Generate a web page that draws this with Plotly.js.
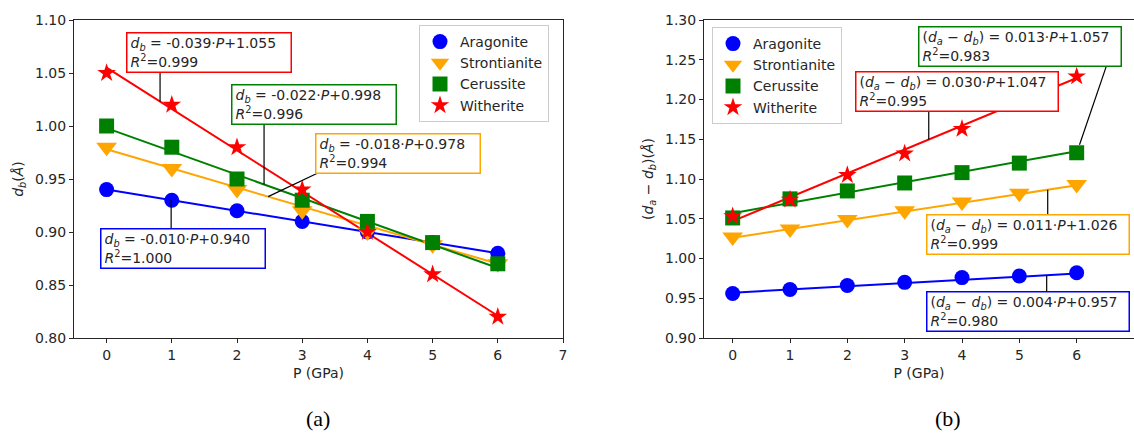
<!DOCTYPE html>
<html>
<head>
<meta charset="utf-8">
<script src="https://cdn.plot.ly/plotly-3.0.1.min.js"></script>
<style>
  html, body { margin: 0; padding: 0; background: #ffffff; }
  #chart { width: 1134px; height: 440px; }
</style>
</head>
<body>
<div id="chart"></div>
<script>
// ---------------- data ----------------
const pressure = [0, 1, 2, 3, 4, 5, 6];
const minerals = ['Aragonite', 'Strontianite', 'Cerussite', 'Witherite'];

// (a) d_b (Å)
const dbAragonite    = [0.94, 0.93, 0.92, 0.91, 0.90, 0.89, 0.88];
const dbStrontianite = [0.98, 0.96, 0.94, 0.92, 0.90, 0.888, 0.87];
const dbCerussite    = [1.00, 0.98, 0.95, 0.93, 0.91, 0.89, 0.87];
const dbWitherite    = [1.05, 1.02, 0.98, 0.94, 0.90, 0.86, 0.82];
const dbSlope     = [-0.010, -0.018, -0.022, -0.039];
const dbIntercept = [0.940, 0.978, 0.998, 1.055];
const dbR2        = ['1.000', '0.994', '0.996', '0.999'];

// (b) (d_a - d_b) (Å)
const dadbAragonite    = [0.956, 0.961, 0.966, 0.970, 0.976, 0.978, 0.982];
const dadbStrontianite = [1.027, 1.037, 1.049, 1.060, 1.071, 1.082, 1.093];
const dadbCerussite    = [1.051, 1.075, 1.085, 1.095, 1.108, 1.120, 1.133];
const dadbWitherite    = [1.053, 1.074, 1.105, 1.132, 1.163, 1.195, 1.229];
const dadbSlope     = [0.004, 0.011, 0.013, 0.030];
const dadbIntercept = [0.957, 1.026, 1.057, 1.047];
const dadbR2        = ['0.980', '0.999', '0.983', '0.995'];

const xTickVals = [0, 1, 2, 3, 4, 5, 6, 7];
const panelLabels = ['(a)', '(b)'];

// ---------------- styling ----------------
const colors  = ['#0000ff', '#ffa500', '#008000', '#ff0000'];
const symbols = ['circle', 'triangle-down', 'square', 'star'];
const msizes  = [15, 18, 15, 14];
const FONT = 'DejaVu Sans, Verdana, sans-serif';
const INK = '#262626';

const dbSeries   = [dbAragonite, dbStrontianite, dbCerussite, dbWitherite];
const dadbSeries = [dadbAragonite, dadbStrontianite, dadbCerussite, dadbWitherite];

const traces = [];
function addPanel(series, slope, intercept, xa, ya, legendName) {
  const x0 = pressure[0], x1 = pressure[pressure.length - 1];
  for (let i = 0; i < minerals.length; i++) {
    traces.push({
      x: [x0, x1], y: [slope[i] * x0 + intercept[i], slope[i] * x1 + intercept[i]],
      xaxis: xa, yaxis: ya, mode: 'lines', showlegend: false, hoverinfo: 'skip',
      line: { color: colors[i], width: 2 }
    });
  }
  for (let i = 0; i < minerals.length; i++) {
    traces.push({
      x: pressure, y: series[i], xaxis: xa, yaxis: ya, mode: 'markers',
      name: minerals[i], legend: legendName,
      marker: { color: colors[i], symbol: symbols[i], size: msizes[i], line: { width: 0 } }
    });
  }
}
addPanel(dbSeries, dbSlope, dbIntercept, 'x', 'y', 'legend');
addPanel(dadbSeries, dadbSlope, dadbIntercept, 'x2', 'y2', 'legend2');

function fmt(v) { return v.toFixed(3); }
function dbText(i) {
  return '<i>d</i><sub><i>b</i></sub> = ' + fmt(dbSlope[i]) + '·<i>P</i>+' + fmt(dbIntercept[i]) +
         '<br><i>R</i><sup>2</sup>=' + dbR2[i];
}
function dadbText(i) {
  return '(<i>d</i><sub><i>a</i></sub> − <i>d</i><sub><i>b</i></sub>) = ' + fmt(dadbSlope[i]) + '·<i>P</i>+' +
         fmt(dadbIntercept[i]) + '<br><i>R</i><sup>2</sup>=' + dadbR2[i];
}

// placement: [leaderStartX, leaderStartY, leaderEndX, leaderEndY or null (on fit), boxCenterX, boxCenterY]
const dbAnnPos = [
  [0.99, 0.9028, 0.99, null, 1.175, 0.8843],    // Aragonite
  [3.232, 0.9554, 2.478, null, 4.475, 0.9739],  // Strontianite
  [2.415, 1.0019, 2.415, null, 3.18, 1.0203],   // Cerussite
  [0.82, 1.0509, 0.82, null, 1.57, 1.0693]      // Witherite
];
const dadbAnnPos = [
  [5.477, 0.9579, 5.477, null, 5.154, 0.9336],
  [5.495, 1.0547, 5.495, null, 5.15, 1.030],
  [6.515, 1.2413, 6.05, 1.143, 5.02, 1.2664],
  [3.42, 1.1855, 3.42, null, 3.92, 1.2098]
];

const annotations = [];
const shapes = [];
function addAnn(posArr, slope, intercept, textFn, xr, yr, boxW) {
  for (let i = 0; i < minerals.length; i++) {
    const p = posArr[i];
    const ey = p[3] === null ? slope[i] * p[2] + intercept[i] : p[3];
    shapes.push({ type: 'line', xref: xr, yref: yr, x0: p[0], y0: p[1], x1: p[2], y1: ey,
      line: { color: '#000000', width: 1.2 }, layer: 'above' });
    annotations.push({
      xref: xr, yref: yr, x: p[4], y: p[5], xanchor: 'center', yanchor: 'middle',
      text: textFn(i), showarrow: false, width: boxW, height: 32,
      align: 'left', valign: 'middle', bgcolor: '#ffffff', bordercolor: colors[i], borderwidth: 1.5, borderpad: 3,
      font: { family: FONT, size: 14, color: INK }
    });
  }
}
addAnn(dbAnnPos, dbSlope, dbIntercept, dbText, 'x', 'y', 157);
addAnn(dadbAnnPos, dadbSlope, dadbIntercept, dadbText, 'x2', 'y2', 195);

// panel labels
annotations.push({ xref: 'paper', yref: 'paper', x: 318 / 1134, y: (338 - 418) / 318,
  text: panelLabels[0], showarrow: false, xanchor: 'center', yanchor: 'middle',
  font: { family: 'Liberation Serif, Times New Roman, serif', size: 22, color: '#000' } });
annotations.push({ xref: 'paper', yref: 'paper', x: 948 / 1134, y: (338 - 418) / 318,
  text: panelLabels[1], showarrow: false, xanchor: 'center', yanchor: 'middle',
  font: { family: 'Liberation Serif, Times New Roman, serif', size: 22, color: '#000' } });

function xAxis(domain) {
  return {
    domain: domain, range: [-0.5, 7], tickvals: xTickVals, ticks: 'outside', ticklen: 4,
    tickcolor: INK, showline: true, linecolor: INK, linewidth: 1, mirror: true,
    showgrid: false, zeroline: false,
    tickfont: { family: FONT, size: 14, color: INK },
    title: { text: 'P (GPa)', font: { family: FONT, size: 14, color: INK }, standoff: 6 }
  };
}
function yAxis(range, anchor, title) {
  return {
    anchor: anchor, range: range, dtick: 0.05, tick0: 0.8, tickformat: '.2f',
    ticks: 'outside', ticklen: 4, tickcolor: INK, showline: true, linecolor: INK, linewidth: 1,
    mirror: true, showgrid: false, zeroline: false,
    tickfont: { family: FONT, size: 14, color: INK },
    title: { text: title, font: { family: FONT, size: 14, color: INK }, standoff: 8 }
  };
}

const legendStyle = {
  bgcolor: 'rgba(255,255,255,0.85)', bordercolor: '#cccccc', borderwidth: 1,
  font: { family: FONT, size: 14, color: INK }, xanchor: 'left', yanchor: 'top',
  itemsizing: 'trace', tracegroupgap: 0
};

const layout = {
  width: 1134, height: 440,
  margin: { l: 0, r: 0, t: 20, b: 102, pad: 0 },
  paper_bgcolor: '#ffffff', plot_bgcolor: '#ffffff',
  xaxis: Object.assign(xAxis([74 / 1134, 563 / 1134]), { anchor: 'y' }),
  yaxis: yAxis([0.80, 1.10], 'x', '<i>d</i><sub><i>b</i></sub>(<i>Å</i>)'),
  xaxis2: Object.assign(xAxis([704 / 1134, 1]), { anchor: 'y2' }),
  yaxis2: yAxis([0.90, 1.30], 'x2', '(<i>d</i><sub><i>a</i></sub> − <i>d</i><sub><i>b</i></sub>)(<i>Å</i>)'),
  legend: Object.assign({}, legendStyle, { x: 419 / 1134, y: (338 - 25) / 318 }),
  legend2: Object.assign({}, legendStyle, { x: 712 / 1134, y: (338 - 27) / 318 }),
  annotations: annotations,
  shapes: shapes,
  showlegend: true
};

Plotly.newPlot('chart', traces, layout, { displayModeBar: false, staticPlot: true });
</script>
</body>
</html>
